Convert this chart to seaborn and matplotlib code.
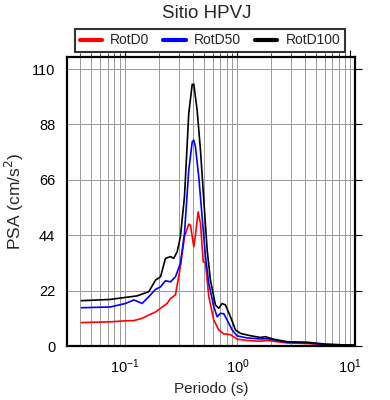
import numpy as np
import pandas as pd
import matplotlib
matplotlib.use("Agg")
import matplotlib.pyplot as plt
import matplotlib.ticker as mticker
import seaborn as sns

# Data
periodo_d100 = [0.041, 0.074, 0.101, 0.128, 0.163, 0.187, 0.207, 0.229, 0.254, 0.271, 0.291,
                0.311, 0.338, 0.369, 0.396, 0.409, 0.438, 0.469, 0.502, 0.538, 0.575, 0.637,
                0.682, 0.731, 0.782, 0.867, 0.960, 1.063, 1.30, 1.60, 1.77, 2.10, 2.77, 4.16,
                6.28, 10.8]
psa_d100 = [18.0, 18.5, 19.3, 19.9, 21.6, 26.2, 27.5, 34.8, 35.5, 34.8, 37.4,
            43.4, 59.3, 92.4, 103.9, 104.0, 93.7, 77.8, 58.0, 38.1, 26.2, 16.3,
            15.0, 16.9, 16.3, 11.6, 6.4, 5.0, 4.1, 3.4, 3.7, 2.7, 1.7, 1.5,
            0.7, 0.3]

periodo_d50 = [0.041, 0.074, 0.101, 0.120, 0.142, 0.163, 0.187, 0.207, 0.229, 0.254, 0.281,
               0.311, 0.338, 0.369, 0.396, 0.409, 0.423, 0.453, 0.485, 0.520, 0.556, 0.616,
               0.660, 0.706, 0.756, 0.810, 0.897, 0.994, 1.22, 1.60, 1.84, 2.77, 4.16,
               6.28, 10.8]
psa_d50 = [15.2, 15.5, 16.9, 18.3, 16.9, 19.6, 22.5, 23.5, 25.9, 25.5, 27.5,
           32.8, 44.7, 69.9, 81.1, 81.8, 79.1, 67.2, 51.3, 35.5, 24.9, 15.6,
           11.6, 13.0, 12.8, 10.3, 6.4, 4.0, 3.2, 2.8, 2.9, 1.5, 1.2,
           0.6, 0.3]

periodo_d0 = [0.041, 0.074, 0.101, 0.120, 0.142, 0.163, 0.187, 0.207, 0.237, 0.254, 0.281,
              0.311, 0.338, 0.369, 0.382, 0.409, 0.423, 0.447, 0.469, 0.496, 0.520, 0.556,
              0.616, 0.682, 0.756, 0.867, 0.994, 1.22, 1.60, 1.84, 2.77, 4.16, 6.28, 10.8]
psa_d0 = [9.3, 9.6, 10.0, 10.1, 11.0, 12.3, 13.5, 15.0, 16.9, 18.9, 20.3,
          31.5, 43.4, 48.4, 48.0, 39.4, 44.0, 53.3, 48.7, 33.5, 33.0, 19.6,
          10.3, 6.4, 4.8, 4.5, 2.7, 2.2, 1.9, 2.2, 1.2, 1.0, 0.5, 0.3]

series_names = ["RotD0", "RotD50", "RotD100"]
colors = ["#ff0000", "#0000ff", "#000000"]
y_ticks = [0, 22, 44, 66, 88, 110]

df = pd.concat([
    pd.DataFrame({"Periodo": periodo_d0, "PSA": psa_d0, "Serie": "RotD0"}),
    pd.DataFrame({"Periodo": periodo_d50, "PSA": psa_d50, "Serie": "RotD50"}),
    pd.DataFrame({"Periodo": periodo_d100, "PSA": psa_d100, "Serie": "RotD100"}),
])

sns.set_style("white")
plt.rcParams["font.family"] = ["Liberation Sans", "DejaVu Sans"]

fig = plt.figure(figsize=(3.9, 4.0), dpi=100)
ax = fig.add_axes([67/390, 1-346/400, (355-67)/390, (346-57)/400])

sns.lineplot(data=df, x="Periodo", y="PSA", hue="Serie", hue_order=series_names,
             palette=dict(zip(series_names, colors)), linewidth=1.2, ax=ax,
             estimator=None, sort=False)

ax.set_xscale("log")
ax.set_xlim(0.0305, 11.1)
ax.set_ylim(0, 114.8)
ax.set_yticks(y_ticks)
ax.xaxis.set_major_locator(mticker.LogLocator(base=10, numticks=10))
ax.xaxis.set_minor_locator(mticker.LogLocator(base=10, subs=np.arange(2, 10), numticks=20))
ax.xaxis.set_minor_formatter(mticker.NullFormatter())

ax.grid(True, which="both", axis="x", color="#999999", linewidth=0.7)
ax.grid(True, which="major", axis="y", color="#999999", linewidth=0.7)
ax.set_axisbelow(True)

ax.tick_params(which="major", direction="out", length=5, width=0.8, top=True, right=True,
               labelsize=10.5, colors="black")
ax.tick_params(which="minor", direction="out", length=3, width=0.6, top=True, right=True)
ax.tick_params(axis="y", which="minor", left=False, right=False)
for s in ax.spines.values():
    s.set_linewidth(1.6)
    s.set_color("black")

ax.set_xlabel("Periodo (s)", fontsize=11)
ax.set_ylabel("PSA (cm/s$^2$)", fontsize=12.5)

handles, labels = ax.get_legend_handles_labels()
ax.get_legend().remove()
for h in handles:
    h.set_linewidth(3)
leg = fig.legend(handles, labels, loc="center", bbox_to_anchor=(210/390, 1-40.5/400),
                 ncol=3, frameon=True, fancybox=False, fontsize=10, handlelength=1.6,
                 columnspacing=1.0, borderpad=0.35, handletextpad=0.6)
leg.get_frame().set_edgecolor("black")
leg.get_frame().set_linewidth(1.5)

fig.text(207/390, 1-14/400, "Sitio HPVJ", ha="center", va="center", fontsize=13.5)

fig.savefig("out.png", dpi=100)
